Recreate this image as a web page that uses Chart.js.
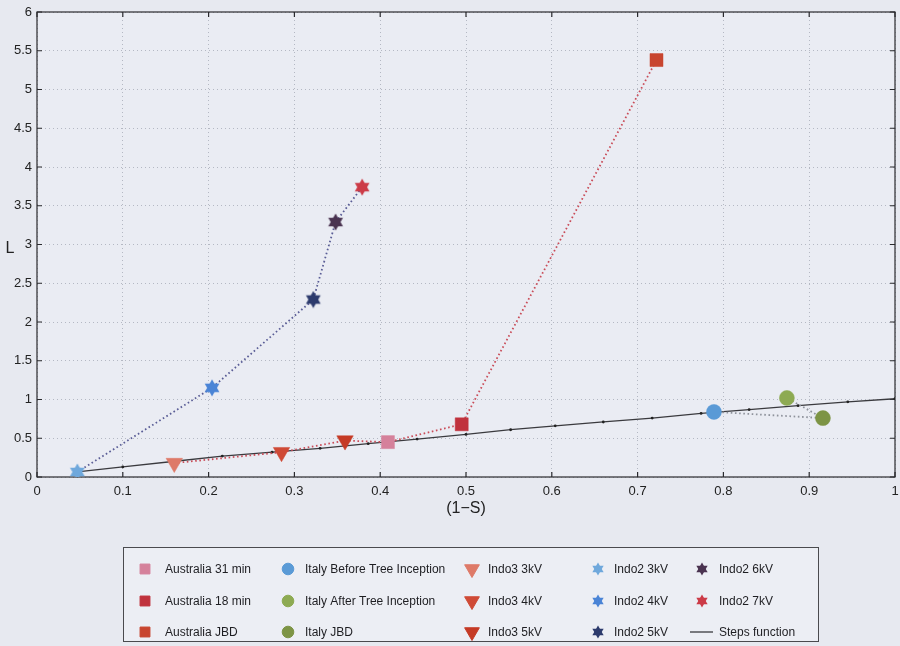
<!DOCTYPE html>
<html>
<head>
<meta charset="utf-8">
<script src="https://cdn.jsdelivr.net/npm/chart.js@4/dist/chart.umd.min.js"></script>
<style>
  html, body { margin: 0; padding: 0; background: #e7e9f0; }
  #c { display: block; }
</style>
</head>
<body>
<canvas id="c" width="900" height="646"></canvas>
<script>
// Australian samples
const australiaLabels = ['Australia 31 min', 'Australia 18 min', 'Australia JBD'];
const australiaX = [0.409, 0.495, 0.722];
const australiaY = [0.45, 0.68, 5.38];
const australiaColors = ['#d5819b', '#c0323d', '#c8452f'];

// Italian samples
const italyLabels = ['Italy Before Tree Inception', 'Italy After Tree Inception', 'Italy JBD'];
const italyX = [0.789, 0.874, 0.916];
const italyY = [0.84, 1.02, 0.76];
const italyColors = ['#5a9ad6', '#8daa52', '#7d9445'];

// Indo3 voltage series
const indo3Labels = ['Indo3 3kV', 'Indo3 4kV', 'Indo3 5kV'];
const indo3X = [0.160, 0.285, 0.359];
const indo3Y = [0.18, 0.32, 0.47];
const indo3Colors = ['#de7a68', '#cf4a36', '#c53a25'];

// Indo2 voltage series
const indo2Labels = ['Indo2 3kV', 'Indo2 4kV', 'Indo2 5kV', 'Indo2 6kV', 'Indo2 7kV'];
const indo2X = [0.047, 0.204, 0.322, 0.348, 0.379];
const indo2Y = [0.065, 1.15, 2.29, 3.29, 3.74];
const indo2Colors = ['#6fa8dc', '#4a84d6', '#2d3b6d', '#4a3350', '#cc3b47'];

// Steps function samples
const stepsLabel = 'Steps function';
const stepsX = [0.047, 0.100, 0.158, 0.216, 0.274, 0.330, 0.386, 0.443, 0.500, 0.552, 0.604, 0.660, 0.717, 0.774, 0.830, 0.887, 0.945, 1.000];
const stepsY = [0.065, 0.13, 0.20, 0.27, 0.32, 0.37, 0.43, 0.49, 0.55, 0.61, 0.66, 0.71, 0.76, 0.82, 0.87, 0.92, 0.97, 1.01];

// Axis ticks
const xTickValues = [0, 0.1, 0.2, 0.3, 0.4, 0.5, 0.6, 0.7, 0.8, 0.9, 1];
const yTickValues = [0, 0.5, 1, 1.5, 2, 2.5, 3, 3.5, 4, 4.5, 5, 5.5, 6];
const xTitle = '(1\u2212S)';
const yTitle = 'L';

const FONT = "'Liberation Sans', Arial, sans-serif";

// six-pointed star marker
function hexagram(color, size) {
  const c = document.createElement('canvas');
  c.width = size; c.height = size;
  const g = c.getContext('2d');
  const r = size / 2 - 0.5, cx = size / 2, cy = size / 2;
  g.fillStyle = color;
  for (const off of [-Math.PI / 2, Math.PI / 2]) {
    g.beginPath();
    for (let k = 0; k < 3; k++) {
      const a = off + k * 2 * Math.PI / 3;
      const px = cx + r * Math.cos(a), py = cy + r * Math.sin(a);
      k ? g.lineTo(px, py) : g.moveTo(px, py);
    }
    g.closePath();
    g.fill();
  }
  return c;
}

const zip = (xs, ys) => xs.map((x, i) => ({ x, y: ys[i] }));

function markerSet(labels, xs, ys, colors, style) {
  return labels.map((label, i) => {
    const ds = {
      label,
      data: [{ x: xs[i], y: ys[i] }],
      backgroundColor: colors[i],
      borderColor: colors[i],
      pointBorderWidth: 0.5,
      showLine: false,
      inLegend: true,
      legendColor: colors[i]
    };
    if (style === 'rect') { ds.pointStyle = 'rect'; ds.pointRadius = 9.2; ds.legendRadius = 7; }
    if (style === 'circle') { ds.pointStyle = 'circle'; ds.pointRadius = 7.5; ds.legendRadius = 5.8; }
    if (style === 'tri') { ds.pointStyle = 'triangle'; ds.rotation = 180; ds.pointRadius = 9.5; ds.legendRadius = 8.5; }
    if (style === 'star') {
      ds.pointStyle = hexagram(colors[i], 18);
      ds.legendImage = hexagram(colors[i], 14);
    }
    return ds;
  });
}

const markerDatasets = [
  ...markerSet(australiaLabels, australiaX, australiaY, australiaColors, 'rect'),
  ...markerSet(italyLabels, italyX, italyY, italyColors, 'circle'),
  ...markerSet(indo3Labels, indo3X, indo3Y, indo3Colors, 'tri'),
  ...markerSet(indo2Labels, indo2X, indo2Y, indo2Colors, 'star')
];

const dotted = (data, color) => ({
  label: '',
  data,
  showLine: true,
  borderColor: color,
  borderWidth: 1.8,
  borderDash: [1.6, 2.6],
  pointRadius: 0,
  fill: false
});

const italyPath = [0, 2, 1].map(i => ({ x: italyX[i], y: italyY[i] }));

const datasets = [
  ...markerDatasets,
  dotted(zip(indo2X, indo2Y), '#5a5d96'),
  dotted(zip(indo3X.concat(australiaX), indo3Y.concat(australiaY)), '#c94c58'),
  dotted(italyPath, '#8f939c'),
  {
    label: stepsLabel,
    data: zip(stepsX, stepsY),
    showLine: true,
    borderColor: '#3a3a3e',
    borderWidth: 1.3,
    pointRadius: 1.4,
    pointBackgroundColor: '#222',
    pointBorderWidth: 0,
    inLegend: true,
    legendLine: true
  }
];

// background, frame and inward tick marks
const framePlugin = {
  id: 'frame',
  beforeDraw(chart) {
    const { ctx, chartArea: a } = chart;
    ctx.save();
    ctx.fillStyle = '#e7e9f0';
    ctx.fillRect(0, 0, chart.width, chart.height);
    ctx.fillStyle = '#eaecf3';
    ctx.fillRect(a.left, a.top, a.right - a.left, a.bottom - a.top);
    ctx.restore();
  },
  beforeDatasetsDraw(chart) {
    const { ctx, chartArea: a, scales } = chart;
    ctx.save();
    ctx.strokeStyle = '#2a2a2e';
    ctx.lineWidth = 1.2;
    ctx.setLineDash([]);
    ctx.strokeRect(a.left, a.top, a.right - a.left, a.bottom - a.top);
    const T = 5;
    ctx.beginPath();
    scales.x.ticks.forEach(t => {
      const px = scales.x.getPixelForValue(t.value);
      ctx.moveTo(px, a.bottom); ctx.lineTo(px, a.bottom - T);
      ctx.moveTo(px, a.top); ctx.lineTo(px, a.top + T);
    });
    scales.y.ticks.forEach(t => {
      const py = scales.y.getPixelForValue(t.value);
      ctx.moveTo(a.left, py); ctx.lineTo(a.left + T, py);
      ctx.moveTo(a.right, py); ctx.lineTo(a.right - T, py);
    });
    ctx.stroke();
    // y axis name, drawn upright
    ctx.fillStyle = '#222';
    ctx.font = '16px ' + FONT;
    ctx.textAlign = 'center';
    ctx.textBaseline = 'middle';
    ctx.fillText(yTitle, 10, (a.top + a.bottom) / 2 + 4);
    ctx.restore();
  }
};

// boxed legend, five columns filled top to bottom
const legendBoxPlugin = {
  id: 'legendBox',
  afterDraw(chart) {
    const { ctx } = chart;
    const box = { left: 123, top: 547, right: 818, bottom: 641 };
    const colMarker = [145, 288, 472, 598, 702];
    const colText = [165, 305, 488, 614, 719];
    const rowY = [569, 601, 632];
    ctx.save();
    ctx.fillStyle = '#eceef4';
    ctx.fillRect(box.left, box.top, box.right - box.left, box.bottom - box.top);
    ctx.strokeStyle = '#4a4a4e';
    ctx.lineWidth = 1;
    ctx.strokeRect(box.left + 0.5, box.top + 0.5, box.right - box.left, box.bottom - box.top);
    const items = chart.data.datasets.filter(d => d.inLegend);
    ctx.font = '12px ' + FONT;
    ctx.textBaseline = 'middle';
    items.forEach((d, i) => {
      const col = Math.floor(i / 3), row = i % 3;
      const mx = colMarker[col], y = rowY[row];
      if (d.legendLine) {
        ctx.strokeStyle = d.borderColor;
        ctx.lineWidth = 1.3;
        ctx.beginPath();
        ctx.moveTo(mx - 12, y); ctx.lineTo(mx + 11, y);
        ctx.stroke();
      } else if (d.legendImage) {
        ctx.drawImage(d.legendImage, mx - d.legendImage.width / 2, y - d.legendImage.height / 2);
      } else {
        ctx.fillStyle = d.legendColor;
        ctx.strokeStyle = d.legendColor;
        Chart.helpers.drawPoint(ctx, {
          pointStyle: d.pointStyle,
          radius: d.legendRadius,
          rotation: d.rotation || 0,
          borderWidth: 0.5
        }, mx, y);
      }
      ctx.fillStyle = '#1e1e22';
      ctx.textAlign = 'left';
      ctx.fillText(d.label, colText[col], y + 1);
    });
    ctx.restore();
  }
};

const gridOpts = { color: '#b4b8c3', lineWidth: 1, drawTicks: false };

new Chart(document.getElementById('c'), {
  type: 'scatter',
  data: { datasets },
  options: {
    responsive: false,
    animation: false,
    devicePixelRatio: 1,
    layout: { autoPadding: false, padding: { top: 12, right: 5, left: 0, bottom: 121 } },
    plugins: { legend: { display: false }, tooltip: { enabled: false } },
    elements: { line: { tension: 0 } },
    scales: {
      x: {
        type: 'linear',
        min: 0, max: 1,
        grid: gridOpts,
        border: { display: false, dash: [1, 3] },
        afterBuildTicks: s => { s.ticks = xTickValues.map(v => ({ value: v })); },
        afterFit: s => { s.height = 48; s.paddingLeft = 0; s.paddingRight = 0; },
        ticks: {
          padding: 7,
          color: '#222',
          font: { family: FONT, size: 13 },
          maxRotation: 0,
          autoSkip: false,
          callback: v => String(v)
        },
        title: {
          display: true,
          text: xTitle,
          color: '#222',
          font: { family: FONT, size: 16 },
          padding: { top: 0, bottom: 7 }
        }
      },
      y: {
        type: 'linear',
        min: 0, max: 6,
        grid: gridOpts,
        border: { display: false, dash: [1, 3] },
        afterBuildTicks: s => { s.ticks = yTickValues.map(v => ({ value: v })); },
        afterFit: s => { s.width = 37; s.paddingTop = 0; s.paddingBottom = 0; },
        ticks: {
          padding: 5,
          color: '#222',
          font: { family: FONT, size: 13 },
          autoSkip: false,
          callback: v => String(v)
        }
      }
    }
  },
  plugins: [framePlugin, legendBoxPlugin]
});
</script>
</body>
</html>
